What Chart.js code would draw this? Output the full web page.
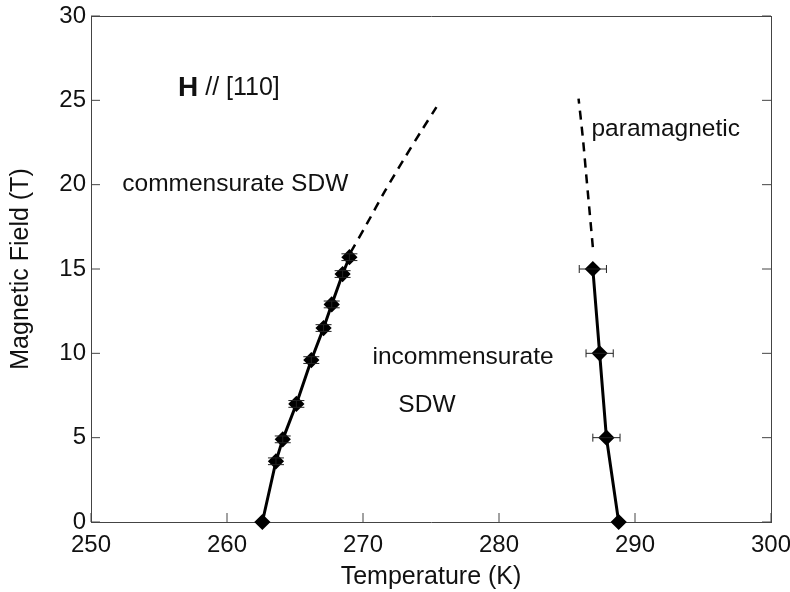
<!DOCTYPE html>
<html>
<head>
<meta charset="utf-8">
<script src="https://cdn.jsdelivr.net/npm/chart.js@4/dist/chart.umd.min.js"></script>
<style>
  html, body { margin: 0; padding: 0; background: #fff; }
  #wrap { width: 790px; height: 592px; }
</style>
</head>
<body>
<div id="wrap"><canvas id="phaseChart" width="790" height="592"></canvas></div>
<script>
// measured points, low-T boundary (commensurate / incommensurate)
const lowT = [262.6, 263.6, 264.1, 265.1, 266.2, 267.1, 267.7, 268.5, 269.0];
const lowH = [0, 3.6, 4.9, 7.0, 9.6, 11.5, 12.9, 14.7, 15.7];
const lowHErr = [0, 0.2, 0.2, 0.2, 0.2, 0.2, 0.2, 0.2, 0.2];

// measured points, high-T boundary (incommensurate / paramagnetic)
const highT = [288.8, 287.9, 287.4, 286.9];
const highH = [0, 5, 10, 15];
const highTErr = [0, 1.0, 1.0, 1.0];

// extrapolated (dashed) boundaries
const lowExtT = [269.1, 270.3, 271.6, 273.0, 274.3, 275.4];
const lowExtH = [16.0, 17.7, 19.6, 21.5, 23.2, 24.6];
const highExtT = [286.9, 286.65, 286.4, 286.15, 285.85];
const highExtH = [16.3, 18.5, 20.7, 22.9, 25.1];

const xTicks = [250, 260, 270, 280, 290, 300];
const yTicks = [0, 5, 10, 15, 20, 25, 30];

const notes = [
  { t: 256.4, h: 25.7, parts: [['bold 28px "Liberation Sans"', 'H'], ['25px "Liberation Sans"', ' // [110]']] },
  { t: 252.3, h: 20.0, parts: [['24.5px "Liberation Sans"', 'commensurate SDW']] },
  { t: 286.8, h: 23.3, parts: [['24.5px "Liberation Sans"', 'paramagnetic']] },
  { t: 270.7, h: 9.75, parts: [['24.5px "Liberation Sans"', 'incommensurate']] },
  { t: 272.6, h: 6.95, parts: [['24.5px "Liberation Sans"', 'SDW']] }
];

const pts = (xs, ys) => xs.map((x, i) => ({ x: x, y: ys[i] }));

// error bars, inward ticks and text labels
const extras = {
  id: 'extras',
  afterDatasetsDraw(chart) {
    const c = chart.ctx;
    const xs = chart.scales.x, ys = chart.scales.y;
    const a = chart.chartArea;
    c.save();
    c.strokeStyle = '#222';
    c.lineWidth = 1;
    // vertical error bars on the low-T points
    lowT.forEach((t, i) => {
      if (!lowHErr[i]) return;
      const px = xs.getPixelForValue(t);
      const y1 = ys.getPixelForValue(lowH[i] - lowHErr[i]);
      const y2 = ys.getPixelForValue(lowH[i] + lowHErr[i]);
      c.beginPath();
      c.moveTo(px, y1); c.lineTo(px, y2);
      c.moveTo(px - 8, y1); c.lineTo(px + 8, y1);
      c.moveTo(px - 8, y2); c.lineTo(px + 8, y2);
      c.stroke();
    });
    // horizontal error bars on the high-T points
    highT.forEach((t, i) => {
      if (!highTErr[i]) return;
      const py = ys.getPixelForValue(highH[i]);
      const x1 = xs.getPixelForValue(t - highTErr[i]);
      const x2 = xs.getPixelForValue(t + highTErr[i]);
      c.beginPath();
      c.moveTo(x1, py); c.lineTo(x2, py);
      c.moveTo(x1, py - 4); c.lineTo(x1, py + 4);
      c.moveTo(x2, py - 4); c.lineTo(x2, py + 4);
      c.stroke();
    });
    // inward ticks
    c.strokeStyle = '#444';
    xTicks.forEach(v => {
      const px = xs.getPixelForValue(v);
      c.beginPath();
      c.moveTo(px, a.bottom); c.lineTo(px, a.bottom - 9);
      c.stroke();
    });
    yTicks.forEach(v => {
      const py = ys.getPixelForValue(v);
      c.beginPath();
      c.moveTo(a.left, py); c.lineTo(a.left + 9, py);
      c.moveTo(a.right, py); c.lineTo(a.right - 9, py);
      c.stroke();
    });
    // labels
    c.fillStyle = '#111';
    c.textBaseline = 'middle';
    notes.forEach(n => {
      let px = xs.getPixelForValue(n.t);
      const py = ys.getPixelForValue(n.h);
      n.parts.forEach(p => {
        c.font = p[0];
        c.fillText(p[1], px, py);
        px += c.measureText(p[1]).width;
      });
    });
    c.restore();
  }
};

const noPad = s => { s.paddingLeft = 0; s.paddingRight = 0; s.paddingTop = 0; s.paddingBottom = 0; };

new Chart(document.getElementById('phaseChart').getContext('2d'), {
  type: 'scatter',
  data: {
    datasets: [
      {
        data: pts(lowT, lowH), showLine: true, borderColor: '#000', borderWidth: 3,
        backgroundColor: '#000', pointStyle: 'rectRot', pointRadius: 6, pointHoverRadius: 6
      },
      {
        data: pts(highT, highH), showLine: true, borderColor: '#000', borderWidth: 3,
        backgroundColor: '#000', pointStyle: 'rectRot', pointRadius: 6, pointHoverRadius: 6
      },
      {
        data: pts(lowExtT, lowExtH), showLine: true, borderColor: '#000', borderWidth: 2.5,
        borderDash: [9, 7], pointRadius: 0, tension: 0.3
      },
      {
        data: pts(highExtT, highExtH), showLine: true, borderColor: '#000', borderWidth: 2.5,
        borderDash: [9, 7], pointRadius: 0, tension: 0.3
      }
    ]
  },
  plugins: [extras],
  options: {
    responsive: false,
    animation: false,
    clip: false,
    layout: { padding: { top: 16, right: 19, left: 0, bottom: 0 } },
    plugins: { legend: { display: false }, tooltip: { enabled: false } },
    scales: {
      x: {
        type: 'linear', min: 250, max: 300,
        afterBuildTicks: s => { s.ticks = xTicks.map(v => ({ value: v })); },
        afterFit: s => { s.height = 70; noPad(s); },
        grid: { display: false, drawTicks: false },
        border: { display: true, color: '#444', width: 1 },
        ticks: { color: '#111', font: { family: 'Liberation Sans', size: 24 }, padding: 9, maxRotation: 0 },
        title: { display: true, text: 'Temperature (K)', color: '#111', font: { family: 'Liberation Sans', size: 25 }, padding: { top: 0, bottom: 0 } }
      },
      x2: {
        type: 'linear', position: 'top', min: 250, max: 300, display: true,
        afterFit: s => { s.height = 0; noPad(s); },
        grid: { display: false, drawTicks: false }, ticks: { display: false },
        border: { display: true, color: '#444', width: 1 }
      },
      y: {
        type: 'linear', min: 0, max: 30,
        afterBuildTicks: s => { s.ticks = yTicks.map(v => ({ value: v })); },
        afterFit: s => { s.width = 91; noPad(s); },
        grid: { display: false, drawTicks: false },
        border: { display: true, color: '#444', width: 1 },
        ticks: { color: '#111', font: { family: 'Liberation Sans', size: 24 }, padding: 5 },
        title: { display: true, text: 'Magnetic Field (T)', color: '#111', font: { family: 'Liberation Sans', size: 25 }, padding: { top: 6, bottom: 0 } }
      },
      y2: {
        type: 'linear', position: 'right', min: 0, max: 30, display: true,
        afterFit: s => { s.width = 0; noPad(s); },
        grid: { display: false, drawTicks: false }, ticks: { display: false },
        border: { display: true, color: '#444', width: 1 }
      }
    }
  }
});
</script>
</body>
</html>
